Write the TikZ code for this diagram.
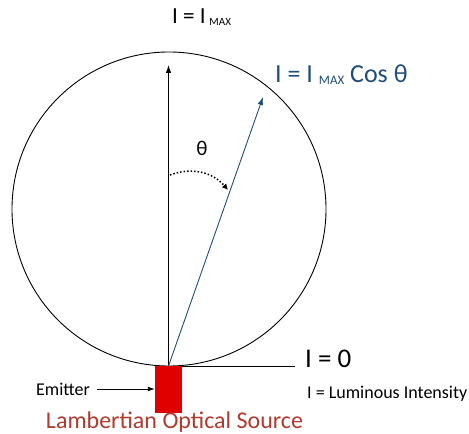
\documentclass[tikz,border=0pt]{standalone}
\usepackage{fontspec}
\setmainfont{Carlito}
\usetikzlibrary{positioning,arrows.meta}
\definecolor{rayblue}{HTML}{1F4E79}
\definecolor{srcred}{HTML}{E00000}
\definecolor{labelred}{HTML}{B03A2E}
\newcommand{\maxsub}[1]{{\fontsize{#1}{#1}\selectfont\raisebox{-0.35ex}{MAX}}}

\begin{document}
\begin{tikzpicture}[
    x=1pt, y=1pt,
    ray/.style={
        -{Latex[length=8pt,width=5.5pt]},
        line width=0.9pt
    },
    txt/.style={
        inner sep=0pt,
        anchor=west
    }
]
\useasboundingbox (0,0) rectangle (469,434);

% The intensity circle
\draw[line width=0.9pt] (169,225) circle[radius=157];

% Source and ray ends
\coordinate (src) at (168.5,68);
\coordinate (top) at (168.5,369);
\coordinate (tip) at (263,337);
\coordinate (flat) at (295,68);

% Emitter
\node[fill=srcred, minimum width=27, minimum height=47, inner sep=0pt,
      anchor=north] (emit) at (src) {};

% Rays
\draw[ray] (src) -- (top);
\draw[ray, rayblue] (src) -- (tip);
\draw[line width=0.9pt] (emit.north east) -- (flat);

% Angle
\coordinate (a0) at (170,259);
\coordinate (a1) at (228,244);
\draw[dotted, line width=1.5pt, -{Latex[length=6pt,width=6pt]}] (a0) to[bend left=35] (a1);
\node (theta) at (202,286) {\fontsize{21}{21}\selectfont θ};

% Labels
\node[txt] (imax) at (172,417) {\fontsize{23}{23}\selectfont I = I\,\maxsub{11}};
\node[txt, text=rayblue] (icos) at (275,359)
    {\fontsize{26}{26}\selectfont I = I \maxsub{13} Cos θ};
\node[txt] (izero) at (305,75) {\fontsize{27}{27}\selectfont I = 0};
\node[txt] (ilum) at (307,40) {\fontsize{18}{18}\selectfont I = Luminous Intensity};

% Emitter label
\node[txt] (elab) at (36,45) {\fontsize{18}{18}\selectfont Emitter};
\draw[-{Latex[length=7pt,width=5pt]}, line width=0.9pt] (elab.east) ++(7,0) -- (emit.west |- elab.east);

% Title
\node[text=labelred, anchor=base, inner sep=0pt] (title) at (174.5,5)
    {\fontsize{24}{24}\selectfont Lambertian Optical Source};
\end{tikzpicture}
\end{document}
